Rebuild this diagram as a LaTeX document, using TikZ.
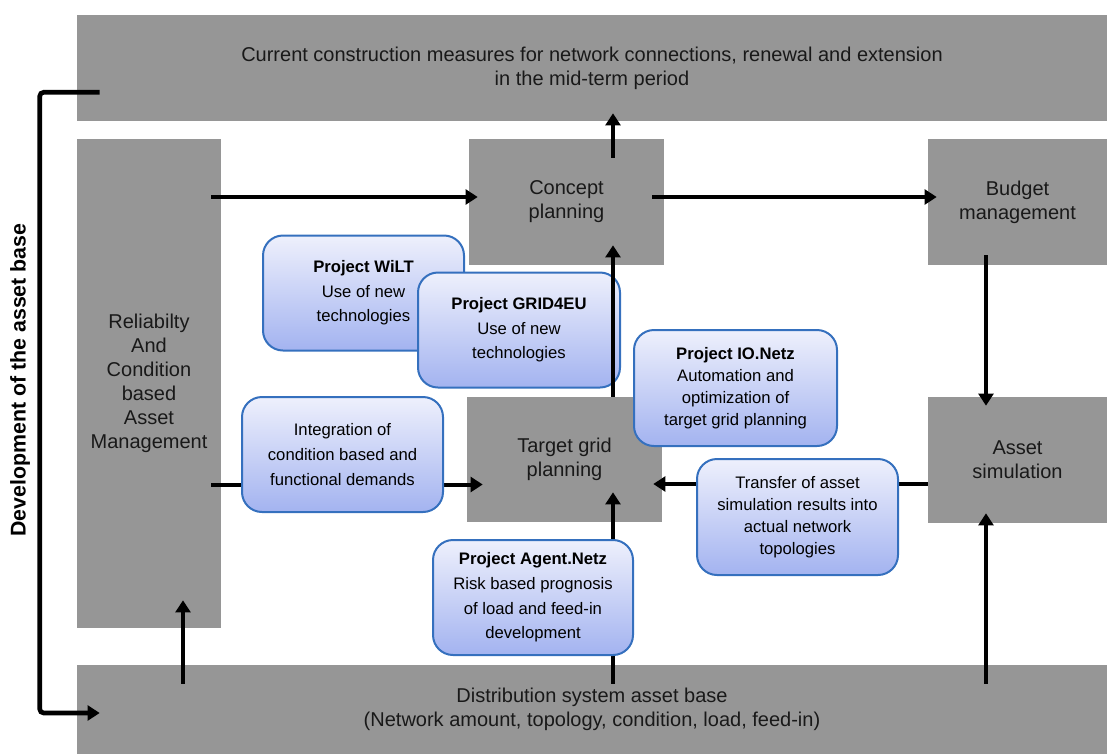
\documentclass[tikz,border=0pt]{standalone}
\usepackage{fontspec}
\setmainfont{Liberation Sans}
\usetikzlibrary{arrows.meta,positioning,calc}
\definecolor{boxgray}{HTML}{969696}
\definecolor{projedge}{HTML}{3570BE}
\definecolor{projtop}{HTML}{EEF0FC}
\definecolor{projbot}{HTML}{A3B3F0}

\begin{document}
\begin{tikzpicture}[x=0.75pt,y=-0.75pt]
	\newcommand\px{0.75pt}
	\tikzset{
		stage/.style={fill=boxgray, inner sep=0pt, align=center, text=black!90,
			font=\fontsize{15}{18}\selectfont},
		project/.style={draw=projedge, line width=1.5pt, rounded corners=15pt,
			top color=projtop, bottom color=projbot, inner sep=0pt, align=center,
			minimum width=201*\px, minimum height=115*\px,
			font=\fontsize{12.5}{18.5}\selectfont},
		flow/.style={line width=3pt, -{Triangle[length=9pt,width=11pt]}},
	}
	\useasboundingbox (0,0) rectangle (1107,754);

	% gray planning stages
	\node[stage, minimum width=1030*\px, minimum height=106*\px] (top) at (592,68)
		{Current construction measures for network connections, renewal and extension\\in the mid-term period};
	\node[stage, minimum width=144*\px, minimum height=489*\px] (rel) at (149,383.5)
		{Reliabilty\\And\\Condition\\based\\Asset\\Management};
	\node[stage, minimum width=195*\px, minimum height=126*\px] (concept) at (566.5,202)
		{Concept\\planning};
	\node[stage, minimum width=179*\px, minimum height=126*\px] (budget) at (1017.5,202)
		{Budget\\management};
	\node[stage, minimum width=195*\px, minimum height=125*\px] (target) at (564.5,459.5)
		{Target grid\\planning};
	\node[stage, minimum width=179*\px, minimum height=126*\px] (asset) at (1017.5,460)
		{Asset\\simulation};
	\node[stage, minimum width=1030*\px, minimum height=89*\px] (base) at (592,709.5)
		{Distribution system asset base\\(Network amount, topology, condition, load, feed-in)};

	% side label
	\node[rotate=90, font=\bfseries\fontsize{16}{19}\selectfont] (devlabel) at (20,380)
		{Development of the asset base};
	\draw[flow, line width=3.5pt, rounded corners=3pt] ($(top.south west)+(23,-29)$) -- ++(-60,0)
		|- ($(base.west)+(23,3.5)$);

	% flows
	\draw[flow] ($(rel.east |- concept.west)+(-10,-5)$) -- ($(concept.west)+(9,-5)$);
	\draw[flow] ($(concept.east)+(-12,-5)$) -- ($(budget.west)+(9,-5)$);
	\draw[flow] ($(concept.north)+(46.5,19)$) -- ($(top.south -| concept.north)+(46.5,-8)$);
	\draw[flow] ($(budget.south)+(-31.5,-10)$) -- ($(asset.north)+(-31.5,9)$);
	\draw[flow] ($(base.north -| asset.south)+(-31.5,19)$) -- ($(asset.south)+(-31.5,-10)$);
	\draw[flow] ($(asset.west)+(0,24)$) -- ($(target.east)+(-9,24.5)$);
	\draw[flow] ($(rel.east |- target.west)+(-10,25)$) -- ($(target.west)+(16,25)$);
	\draw[flow] ($(base.north -| target.south)+(48.5,19)$) -- ($(target.south)+(48.5,-30)$);
	\draw[flow] ($(base.north -| rel.south)+(34,19)$) -- ($(rel.south)+(34,-28)$);

	% research projects
	\node[project] (wilt) at (363.5,293)
		{\textbf{Project WiLT}\\Use of new\\technologies};
	\node[project, minimum width=202*\px] (grid) at (519,330)
		{\textbf{Project GRID4EU}\\Use of new\\technologies};
	\node[project, minimum width=203*\px, minimum height=116*\px,
		font=\fontsize{12.5}{16.5}\selectfont] (ionetz) at (735.5,388)
		{\textbf{Project IO.Netz}\\Automation and\\optimization of\\target grid planning};
	\node[project, minimum height=116*\px,
		font=\fontsize{12.5}{16.5}\selectfont] (transfer) at (797.5,517)
		{Transfer of asset\\simulation results into\\actual network\\topologies};
	\node[project] (integ) at (342.5,454.5)
		{Integration of\\condition based and\\functional demands};
	\node[project, minimum width=200*\px] (agent) at (533,597.5)
		{\textbf{Project Agent.Netz}\\Risk based prognosis\\of load and feed-in\\development};

	\draw[flow] ($(target.north)+(48.5,0)$) -- ($(concept.south)+(46.5,-20)$);
\end{tikzpicture}
\end{document}
